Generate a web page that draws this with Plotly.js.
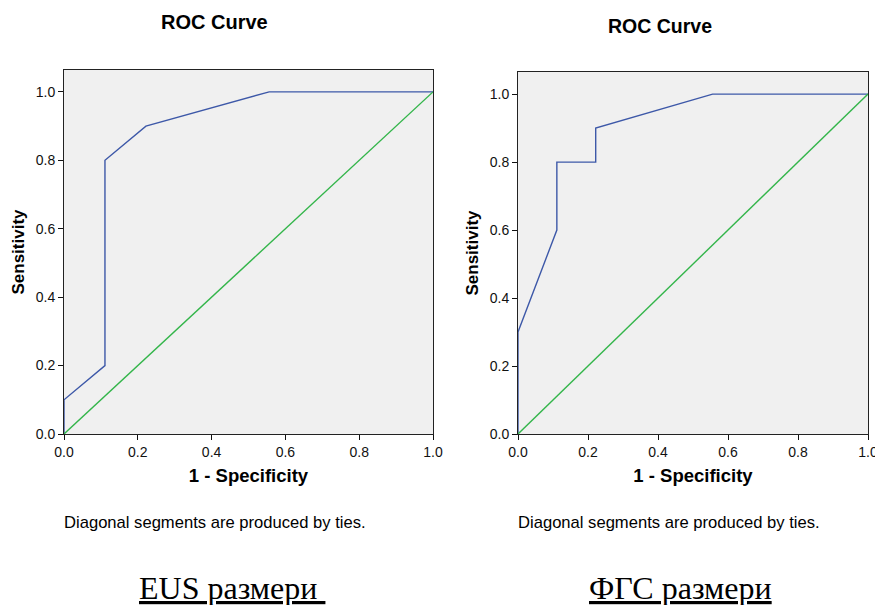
<!DOCTYPE html>
<html>
<head>
<meta charset="utf-8">
<script src="https://cdn.plot.ly/plotly-3.0.1.min.js"></script>
<style>html,body{margin:0;padding:0;background:#fff;}#chart{width:875px;height:605px;}</style>
</head>
<body>
<div id="chart"></div>
<script>
// ROC data
const fprEUS = [0, 0, 0.111, 0.111, 0.222, 0.556, 1.0];
const tprEUS = [0, 0.1, 0.2, 0.8, 0.9, 1.0, 1.0];
const fprFGS = [0, 0, 0.111, 0.111, 0.222, 0.222, 0.556, 1.0];
const tprFGS = [0, 0.3, 0.6, 0.8, 0.8, 0.9, 1.0, 1.0];
const diagX = [0, 1];
const diagY = [0, 1];
const tickVals = [0, 0.2, 0.4, 0.6, 0.8, 1.0];
const tickText = ["0.0", "0.2", "0.4", "0.6", "0.8", "1.0"];
const panelTitles = ["ROC Curve", "ROC Curve"];
const footnote = "Diagonal segments are produced by ties.";
const captions = ["EUS размери ", "ФГС размери"];

const blue = "#3d58a8";
const green = "#33b54a";

const traces = [
  {x: fprEUS, y: tprEUS, xaxis: "x", yaxis: "y", mode: "lines", line: {color: blue, width: 1.4}, hoverinfo: "skip"},
  {x: diagX, y: diagY, xaxis: "x", yaxis: "y", mode: "lines", line: {color: green, width: 1.4}, hoverinfo: "skip"},
  {x: fprFGS, y: tprFGS, xaxis: "x2", yaxis: "y2", mode: "lines", line: {color: blue, width: 1.4}, hoverinfo: "skip"},
  {x: diagX, y: diagY, xaxis: "x2", yaxis: "y2", mode: "lines", line: {color: green, width: 1.4}, hoverinfo: "skip"}
];

const W = 875, H = 605;
const sans = "Liberation Sans, Arial, sans-serif";
function axisCommon() {
  return {
    showline: true, mirror: true, linecolor: "#222", linewidth: 1,
    ticks: "outside", ticklen: 5, tickcolor: "#111", tickwidth: 1,
    tickvals: tickVals, ticktext: tickText,
    ticklabeloverflow: "allow",
    tickfont: {family: sans, size: 14, color: "#111"},
    showgrid: false, zeroline: false, fixedrange: true
  };
}
const xTitleFont = {family: sans, size: 18.5, color: "#000"};
const yTitleFont = {family: sans, size: 17, color: "#000"};

const layout = {
  width: W, height: H,
  margin: {l: 0, r: 0, t: 0, b: 0},
  paper_bgcolor: "#fff",
  plot_bgcolor: "#f0f0f0",
  showlegend: false,
  xaxis: Object.assign(axisCommon(), {domain: [64/W, 433/W], range: [0, 1], anchor: "y",
    title: {text: "<b>1 - Specificity</b>", font: xTitleFont, standoff: 10}}),
  yaxis: Object.assign(axisCommon(), {domain: [(H-434)/H, (H-70)/H], range: [0, 1.064], anchor: "x",
    title: {text: "<b>Sensitivity</b>", font: yTitleFont, standoff: 6}}),
  xaxis2: Object.assign(axisCommon(), {domain: [518/W, 868/W], range: [0, 1], anchor: "y2",
    title: {text: "<b>1 - Specificity</b>", font: xTitleFont, standoff: 10}}),
  yaxis2: Object.assign(axisCommon(), {domain: [(H-434)/H, (H-72)/H], range: [0, 1.065], anchor: "x2",
    title: {text: "<b>Sensitivity</b>", font: yTitleFont, standoff: 6}}),
  annotations: [
    {text: "<b>" + panelTitles[0] + "</b>", xref: "paper", yref: "paper", x: 214/W, y: 1 - 22/H, xanchor: "center", yanchor: "middle", showarrow: false, font: {family: sans, size: 20, color: "#000"}},
    {text: "<b>" + panelTitles[1] + "</b>", xref: "paper", yref: "paper", x: 660/W, y: 1 - 26/H, xanchor: "center", yanchor: "middle", showarrow: false, font: {family: sans, size: 19.5, color: "#000"}},
    {text: footnote, xref: "paper", yref: "paper", x: 62/W, y: 1 - 522/H, xanchor: "left", yanchor: "middle", showarrow: false, font: {family: sans, size: 16.6, color: "#000"}},
    {text: footnote, xref: "paper", yref: "paper", x: 516/W, y: 1 - 522/H, xanchor: "left", yanchor: "middle", showarrow: false, font: {family: sans, size: 16.6, color: "#000"}},
    {text: "<u>" + captions[0] + "</u>", xref: "paper", yref: "paper", x: 137/W, y: 1 - 588/H, xanchor: "left", yanchor: "middle", showarrow: false, font: {family: "Liberation Serif, Times New Roman, serif", size: 32, color: "#000"}},
    {text: "<u>" + captions[1] + "</u>", xref: "paper", yref: "paper", x: 587/W, y: 1 - 588/H, xanchor: "left", yanchor: "middle", showarrow: false, font: {family: "Liberation Serif, Times New Roman, serif", size: 32, color: "#000"}}
  ]
};

Plotly.newPlot("chart", traces, layout, {staticPlot: true, displayModeBar: false});
</script>
</body>
</html>
